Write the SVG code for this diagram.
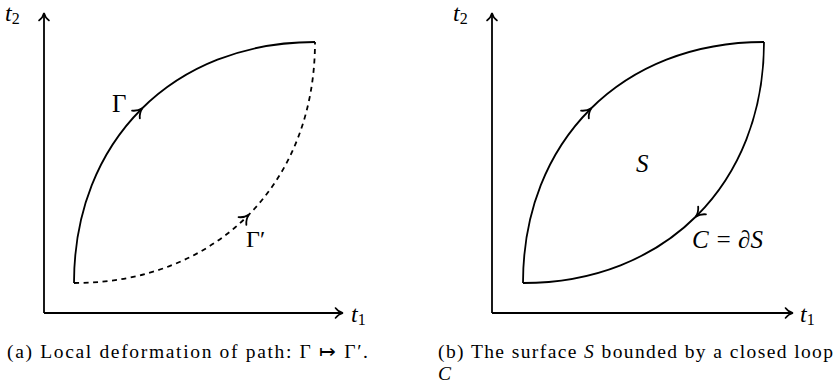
<svg xmlns="http://www.w3.org/2000/svg" width="836" height="389" viewBox="0 0 836 389" font-family="Liberation Serif, serif">
<defs>
<marker id="arr" markerUnits="userSpaceOnUse" markerWidth="16" markerHeight="16" viewBox="-8 -8 16 16" refX="0" refY="0" orient="auto" overflow="visible">
<path d="M-6.5,-5 C-4.5,-2.2 -1.5,-0.6 1,0 C-1.5,0.6 -4.5,2.2 -6.5,5" fill="none" stroke="#000" stroke-width="1.6" stroke-linecap="round" stroke-dasharray="none"/>
</marker>
<marker id="arrm" markerUnits="userSpaceOnUse" markerWidth="20" markerHeight="20" viewBox="-10 -10 20 20" refX="0" refY="0" orient="auto" overflow="visible">
<path d="M-7.5,-5.5 C-5,-2.4 -1.8,-0.7 1.5,0 C-1.8,0.7 -5,2.4 -7.5,5.5" fill="none" stroke="#000" stroke-width="1.8" stroke-linecap="round" stroke-dasharray="none"/>
</marker>
</defs>
<g id="panel-a">
<g id="axes-a" fill="none" stroke="#000" stroke-width="1.8" marker-end="url(#arr)">
<path d="M44,313 L44,14"/>
<path d="M44,313 L342,313"/>
</g>
<g id="labels-a" fill="#000">
<text x="5" y="21" font-family="Liberation Serif" font-size="24" font-style="italic">t<tspan font-style="normal" font-size="16" dy="3">2</tspan></text>
<text x="351" y="322" font-family="Liberation Serif" font-size="24" font-style="italic">t<tspan font-style="normal" font-size="16" dy="3">1</tspan></text>
<text x="112" y="112" font-family="Liberation Serif" font-size="25">Γ</text>
<text x="246" y="247" font-family="Liberation Serif" font-size="24">Γ′</text>
</g>
<g id="connectors-a" fill="none" stroke="#000" stroke-width="1.8" marker-mid="url(#arrm)">
<path id="gamma" d="M74,283 C74,212 98.75,151.75 141.25,109.25 C183.75,66.75 244,42 315,42"/>
<path id="gamma-prime" stroke-dasharray="5 4.5" d="M74,283 C145,283 205.25,258.25 247.75,215.75 C290.25,173.25 315,113 315,42"/>
</g>
<text x="7" y="358" font-family="Liberation Serif" font-size="19.5" textLength="361" lengthAdjust="spacing">(a) Local deformation of path: Γ ↦ Γ′.</text>
</g>
<g id="panel-b">
<g id="axes-b" fill="none" stroke="#000" stroke-width="1.8" marker-end="url(#arr)">
<path d="M492,313 L492,14"/>
<path d="M492,313 L792,313"/>
</g>
<g id="labels-b" fill="#000">
<text x="453" y="21" font-family="Liberation Serif" font-size="24" font-style="italic">t<tspan font-style="normal" font-size="16" dy="3">2</tspan></text>
<text x="800" y="322" font-family="Liberation Serif" font-size="24" font-style="italic">t<tspan font-style="normal" font-size="16" dy="3">1</tspan></text>
<text x="636" y="172" font-family="Liberation Serif" font-size="25" font-style="italic">S</text>
<text x="692" y="248" font-family="Liberation Serif" font-size="25" font-style="italic">C = ∂S</text>
</g>
<g id="connectors-b" transform="translate(449,0)" fill="none" stroke="#000" stroke-width="1.8" marker-mid="url(#arrm)">
<path id="loop-upper" d="M74,283 C74,212 98.75,151.75 141.25,109.25 C183.75,66.75 244,42 315,42"/>
<path id="loop-lower" d="M315,42 C315,113 290.25,173.25 247.75,215.75 C205.25,258.25 145,283 74,283"/>
</g>
<text x="438" y="358" font-family="Liberation Serif" font-size="19.5" textLength="395" lengthAdjust="spacing">(b) The surface <tspan font-style="italic">S</tspan> bounded by a closed loop</text>
<text x="438" y="380" font-family="Liberation Serif" font-size="19.5" font-style="italic">C</text>
</g>
</svg>
